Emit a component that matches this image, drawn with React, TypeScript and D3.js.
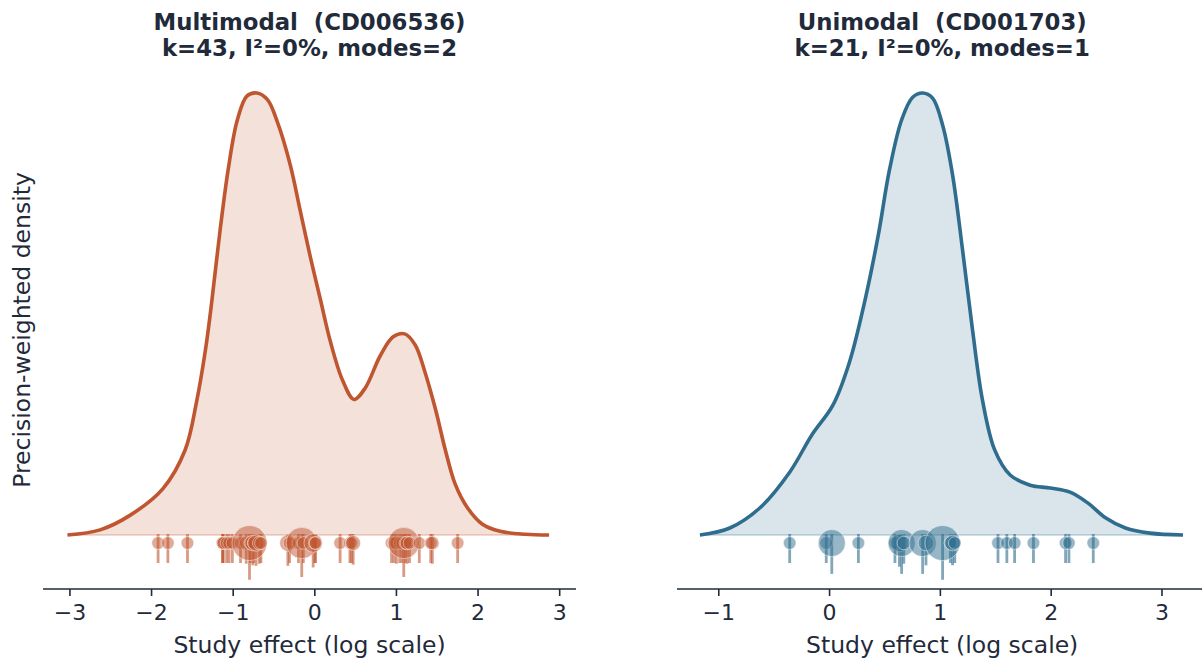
import React from "react";
import * as d3 from "d3";

// ---------- data ----------
// Left panel: multimodal (CD006536) density curve
const leftX = [-3.03, -2.63, -2.26, -1.86, -1.59, -1.45, -1.34, -1.26, -1.16, -1.06, -0.95, -0.83, -0.71, -0.58, -0.46, -0.30, -0.18, -0.06, 0.07, 0.19, 0.34, 0.48, 0.62, 0.80, 0.96, 1.10, 1.23, 1.35, 1.48, 1.60, 1.72, 1.87, 2.05, 2.27, 2.58, 2.87];
const leftDensity = [0, 0.007, 0.027, 0.063, 0.115, 0.180, 0.251, 0.319, 0.414, 0.497, 0.563, 0.596, 0.600, 0.591, 0.561, 0.502, 0.441, 0.380, 0.319, 0.263, 0.210, 0.184, 0.200, 0.243, 0.269, 0.273, 0.258, 0.221, 0.170, 0.115, 0.069, 0.037, 0.015, 0.005, 0.001, 0];

// Right panel: unimodal (CD001703)
const rightX = [-1.17, -0.90, -0.63, -0.36, -0.16, 0.03, 0.18, 0.32, 0.44, 0.54, 0.65, 0.75, 0.84, 0.93, 1.02, 1.11, 1.20, 1.29, 1.38, 1.49, 1.63, 1.81, 1.99, 2.17, 2.33, 2.49, 2.67, 2.89, 3.19];
const rightDensity = [0, 0.015, 0.058, 0.135, 0.215, 0.279, 0.372, 0.505, 0.645, 0.784, 0.892, 0.941, 0.95, 0.939, 0.881, 0.774, 0.613, 0.441, 0.290, 0.183, 0.129, 0.107, 0.101, 0.092, 0.069, 0.037, 0.015, 0.004, 0];

// Study effects and precision weights
const leftEffects = [-1.92, -1.80, -1.56, -1.13, -1.13, -1.12, -1.08, -1.05, -1.01, -0.91, -0.84, -0.80, -0.79, -0.76, -0.75, -0.72, -0.68, -0.66, -0.33, -0.31, -0.20, -0.16, -0.14, -0.02, 0.00, 0.01, 0.31, 0.43, 0.45, 0.47, 0.94, 0.97, 1.00, 1.04, 1.07, 1.09, 1.11, 1.13, 1.16, 1.28, 1.42, 1.44, 1.75];
const leftWeights = [1.3, 1.3, 1.3, 1.3, 1.3, 1.3, 1.3, 1.3, 1.3, 1.3, 1.5, 10, 1.3, 2, 1.3, 2.2, 1.5, 1.3, 2.2, 1.3, 1.3, 8, 1.3, 2.8, 1.3, 1.3, 1.3, 1.3, 1.3, 1.8, 1.3, 1.3, 1.5, 1.3, 1.3, 8, 1.3, 1.5, 1.3, 1.3, 1.3, 1.5, 1.3];

const rightEffects = [-0.36, -0.03, 0.02, 0.26, 0.59, 0.63, 0.65, 0.67, 0.84, 0.87, 1.02, 1.09, 1.11, 1.13, 1.52, 1.60, 1.67, 1.84, 2.13, 2.16, 2.38];
const rightWeights = [1.3, 1.3, 6, 1.3, 1.3, 2.5, 6, 1.5, 6, 2, 10, 1.3, 2, 1.3, 1.3, 1.3, 1.3, 1.3, 1.3, 1.3, 1.3];

const leftTicks = [-3, -2, -1, 0, 1, 2, 3];
const rightTicks = [-1, 0, 1, 2, 3];

const leftTitle = ["Multimodal  (CD006536)", "k=43, I\u00b2=0%, modes=2"];
const rightTitle = ["Unimodal  (CD001703)", "k=21, I\u00b2=0%, modes=1"];

const xLabel = "Study effect (log scale)";
const yLabel = "Precision-weighted density";

// ---------- styles ----------
const TEXT = "#1f2a3a";
const FONT = "'DejaVu Sans', sans-serif";

type PanelProps = {
  xs: number[];
  dens: number[];
  effects: number[];
  weights: number[];
  ticks: number[];
  domain: [number, number];
  range: [number, number];
  color: string;
  title: string[];
};

function Panel({ xs, dens, effects, weights, ticks, domain, range, color, title }: PanelProps) {
  const baseY = 535;
  const topY = 93;
  const axisY = 589;
  const x = d3.scaleLinear().domain(domain).range(range);
  const y = d3.scaleLinear().domain([0, d3.max(dens) as number]).range([baseY, topY]);
  const pts = xs.map((v, i) => [v, dens[i]] as [number, number]);
  const curve = d3.curveCatmullRom.alpha(0.5);
  const line = d3.line<[number, number]>().x((d) => x(d[0])).y((d) => Math.min(y(d[1]), baseY)).curve(curve);
  const area = d3.area<[number, number]>().x((d) => x(d[0])).y0(y(0)).y1((d) => Math.min(y(d[1]), baseY)).curve(curve);
  const r = d3.scaleSqrt().domain([0, 10]).range([0, 17.5]);
  const len = (w: number) => 29 + (r(w) - 6.3) * 1.5;
  const cx = (range[0] + range[1]) / 2;
  const dotY = baseY + 8;
  const order = effects.map((_, i) => i);
  return (
    <g>
      <text x={cx} y={30} textAnchor="middle" fontFamily={FONT} fontWeight="bold" fontSize={22.8} fill={TEXT} style={{ whiteSpace: "pre" }}>
        {title[0]}
      </text>
      <text x={cx} y={56} textAnchor="middle" fontFamily={FONT} fontWeight="bold" fontSize={22.8} fill={TEXT}>
        {title[1]}
      </text>
      <path d={area(pts) || ""} fill={color} fillOpacity={0.18} stroke="none" />
      <line x1={x(xs[0])} x2={x(xs[xs.length - 1])} y1={y(0)} y2={y(0)} stroke={color} strokeOpacity={0.22} strokeWidth={2} />
      {order.map((i) => (
        <line key={"l" + i} x1={x(effects[i])} x2={x(effects[i])} y1={baseY - 1} y2={baseY - 1 + len(weights[i])} stroke={color} strokeOpacity={0.6} strokeWidth={2.8} />
      ))}
      {order.map((i) => (
        <circle key={"c" + i} cx={x(effects[i])} cy={dotY} r={r(weights[i])} fill={color} fillOpacity={0.5} stroke="#ffffff" strokeOpacity={0.6} strokeWidth={0.8} />
      ))}
      <path d={line(pts) || ""} fill="none" stroke={color} strokeWidth={3.6} strokeLinejoin="round" />
      <line x1={range[0]} x2={range[1]} y1={axisY} y2={axisY} stroke={TEXT} strokeWidth={1.6} />
      {ticks.map((t) => (
        <g key={t}>
          <line x1={x(t)} x2={x(t)} y1={axisY} y2={axisY + 7} stroke={TEXT} strokeWidth={1.6} />
          <text x={x(t)} y={axisY + 31} textAnchor="middle" fontFamily={FONT} fontSize={22} fill={TEXT}>
            {t < 0 ? "\u2212" + Math.abs(t) : String(t)}
          </text>
        </g>
      ))}
      <text x={cx} y={axisY + 64} textAnchor="middle" fontFamily={FONT} fontSize={23.5} fill={TEXT}>
        {xLabel}
      </text>
    </g>
  );
}

export default function App() {
  React.useEffect(() => {
    document.body.style.margin = "0";
  }, []);
  return (
    <svg width={1202} height={661} style={{ position: "absolute", left: 0, top: 0, background: "#ffffff" }}>
      <rect width={1202} height={661} fill="#ffffff" />
      <Panel xs={leftX} dens={leftDensity} effects={leftEffects} weights={leftWeights} ticks={leftTicks} domain={[-3.33, 3.2]} range={[43, 576]} color="#bf5630" title={leftTitle} />
      <Panel xs={rightX} dens={rightDensity} effects={rightEffects} weights={rightWeights} ticks={rightTicks} domain={[-1.377, 3.41]} range={[677, 1207.4]} color="#2f6d8e" title={rightTitle} />
      <text transform="translate(30,330) rotate(-90)" textAnchor="middle" fontFamily={FONT} fontSize={23.5} fill={TEXT}>
        {yLabel}
      </text>
    </svg>
  );
}
